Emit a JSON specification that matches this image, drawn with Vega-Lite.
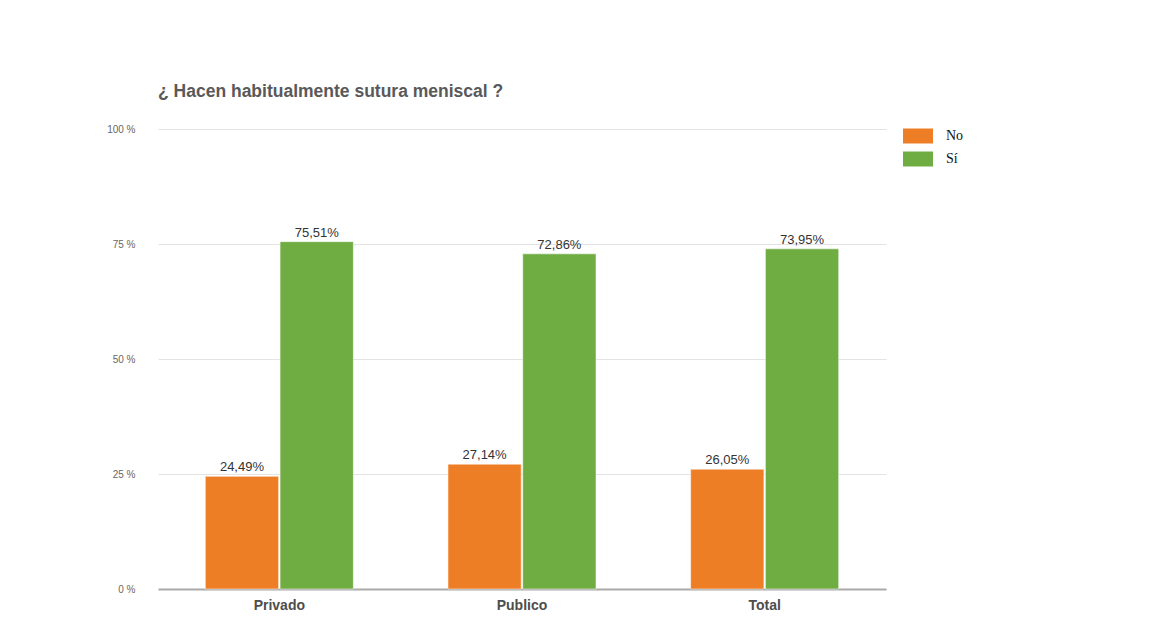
{
  "$schema": "https://vega.github.io/schema/vega-lite/v6.json",
  "width": 728,
  "height": 460,
  "autosize": {"type": "none"},
  "padding": {"left": 158, "top": 129, "right": 270, "bottom": 43},
  "background": "white",
  "config": {"view": {"stroke": null}},
  "title": {
    "text": "¿ Hacen habitualmente sutura meniscal ?",
    "anchor": "start",
    "frame": "group",
    "font": "Liberation Sans",
    "fontSize": 17.5,
    "fontWeight": "bold",
    "color": "#595959",
    "offset": 24
  },
  "data": {
    "values": [
      {"grupo": "Privado", "respuesta": "No", "valor": 24.49},
      {"grupo": "Privado", "respuesta": "Sí", "valor": 75.51},
      {"grupo": "Publico", "respuesta": "No", "valor": 27.14},
      {"grupo": "Publico", "respuesta": "Sí", "valor": 72.86},
      {"grupo": "Total", "respuesta": "No", "valor": 26.05},
      {"grupo": "Total", "respuesta": "Sí", "valor": 73.95}
    ]
  },
  "encoding": {
    "x": {
      "field": "grupo",
      "type": "nominal",
      "sort": ["Privado", "Publico", "Total"],
      "scale": {"paddingInner": 0.39, "paddingOuter": 0.195},
      "axis": {
        "title": null,
        "labelAngle": 0,
        "ticks": false,
        "domainColor": "#aaaaaa",
        "domainWidth": 2,
        "labelFont": "Liberation Sans",
        "labelFontSize": 14,
        "labelFontWeight": "bold",
        "labelColor": "#4d4d4d",
        "labelPadding": 9
      }
    },
    "xOffset": {
      "field": "respuesta",
      "sort": ["No", "Sí"],
      "scale": {"paddingInner": 0.02}
    },
    "y": {
      "field": "valor",
      "type": "quantitative",
      "scale": {"domain": [0, 100]},
      "axis": {
        "title": null,
        "values": [0, 25, 50, 75, 100],
        "labelExpr": "datum.value + ' %'",
        "ticks": false,
        "domain": false,
        "gridColor": "#e3e3e3",
        "labelColor": "#666666",
        "labelFont": "Liberation Sans",
        "labelFontSize": 10,
        "labelPadding": 23
      }
    }
  },
  "layer": [
    {
      "mark": {"type": "bar", "stroke": "#ffffff", "strokeOpacity": 0.5, "strokeWidth": 1},
      "encoding": {
        "color": {
          "field": "respuesta",
          "type": "nominal",
          "sort": ["No", "Sí"],
          "scale": {"domain": ["No", "Sí"], "range": ["#EE7E26", "#6FAC42"]},
          "legend": {
            "title": null,
            "orient": "none",
            "legendX": 745,
            "legendY": -1,
            "symbolType": "M-1,-0.5H1V0.5H-1Z",
            "symbolSize": 900,
            "symbolStrokeWidth": 0,
            "clipHeight": 16,
            "rowPadding": 7,
            "labelFont": "Liberation Serif",
            "labelFontSize": 14,
            "labelColor": "#111111",
            "labelOffset": 13
          }
        }
      }
    },
    {
      "transform": [
        {"calculate": "replace(format(datum.valor, '.2f'), '.', ',') + '%'", "as": "etiqueta"}
      ],
      "mark": {
        "type": "text",
        "baseline": "bottom",
        "dy": -2,
        "font": "Liberation Sans",
        "fontSize": 13,
        "color": "#333333"
      },
      "encoding": {
        "text": {"field": "etiqueta"}
      }
    }
  ]
}
